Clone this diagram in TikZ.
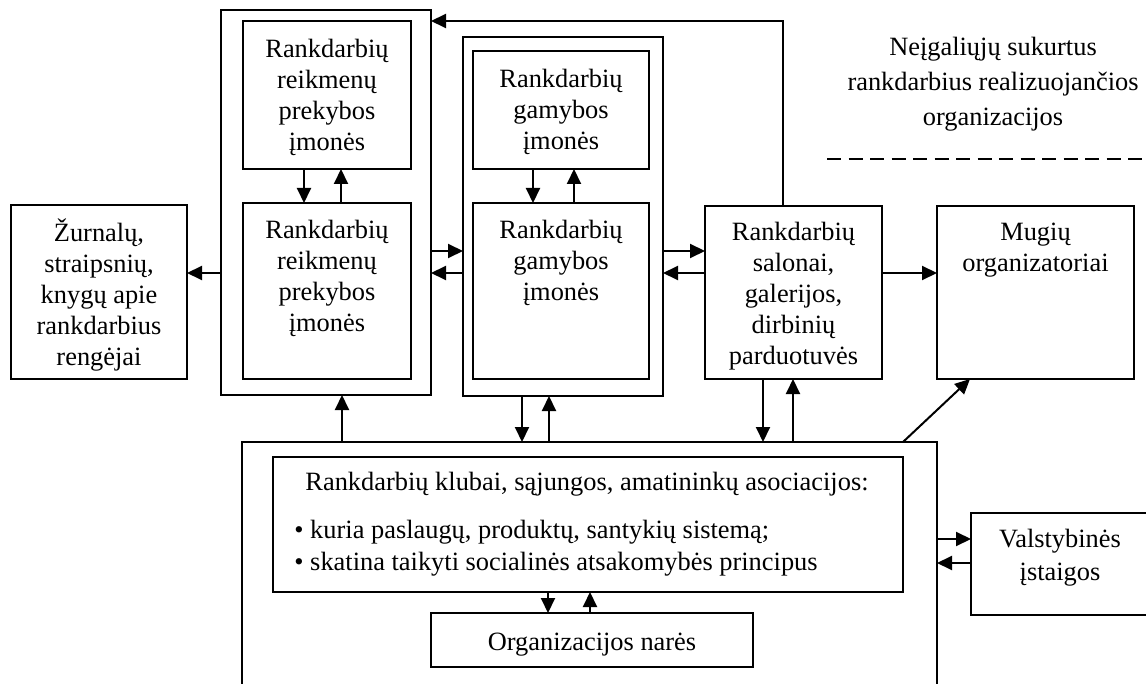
\documentclass[tikz,border=0pt]{standalone}
\usepackage{fontspec}
\setmainfont{Liberation Serif}
\usetikzlibrary{arrows.meta,fit}
\tikzset{
  box/.style={draw, line width=1pt, inner sep=0pt, outer sep=0pt},
  txt/.style={inner sep=0pt, align=center, anchor=north,
              font=\fontsize{13.2}{15.5}\selectfont},
  arr/.style={line width=1pt, -{Triangle[length=7.5pt,width=7pt]}},
  sep/.style={line width=1pt, dash pattern=on 7pt off 3.75pt},
}
% zero-width strut fixing the height of a node's first line
\newcommand\fls{\rule{0pt}{12pt}}

\begin{document}
\begin{tikzpicture}[x=0.5pt,y=-0.5pt]
\useasboundingbox (0,0) rectangle (1146,684);

% ---------- boxes ----------
\node[box, fit={(221,10) (431,395)}]  (O1) {};
\node[box, fit={(243,21) (411,169)}]  (A)  {};
\node[box, fit={(243,203) (411,379)}] (B)  {};
\node[box, fit={(463,37) (663,396)}]  (O2) {};
\node[box, fit={(473,51) (649,169)}]  (C)  {};
\node[box, fit={(473,203) (649,379)}] (D)  {};
\node[box, fit={(11,205) (187,379)}]  (Z)  {};
\node[box, fit={(705,206) (882,379)}] (S)  {};
\node[box, fit={(937,206) (1134,379)}] (M) {};
\node[box, fit={(242,442) (937,700)}] (G)  {};
\node[box, fit={(273,457) (903,592)}] (K)  {};
\node[box, fit={(431,613) (753,667)}] (N)  {};
\node[box, fit={(971,513) (1152,615)}] (V) {};

% ---------- texts ----------
\node[txt] (tA) at (327,33)  {\fls Rankdarbių\\reikmenų\\prekybos\\įmonės};
\node[txt] (tB) at (327,214) {\fls Rankdarbių\\reikmenų\\prekybos\\įmonės};
\node[txt] (tC) at (561,63)  {\fls Rankdarbių\\gamybos\\įmonės};
\node[txt] (tD) at (561,214) {\fls Rankdarbių\\gamybos\\įmonės};
\node[txt] (tZ) at (99,217)  {\fls Žurnalų,\\straipsnių,\\knygų apie\\rankdarbius\\rengėjai};
\node[txt] (tS) at (793.5,216) {\fls Rankdarbių\\salonai,\\galerijos,\\dirbinių\\parduotuvės};
\node[txt] (tM) at (1035.5,216) {\fls Mugių\\organizatoriai};
\node[txt, font=\fontsize{13.2}{16.5}\selectfont] (tV) at (1060,523) {\fls Valstybinės\\įstaigos};
\node[txt] (tK) at (587,466) {\fls Rankdarbių klubai, sąjungos, amatininkų asociacijos:};
\node[txt, anchor=north west, align=left, font=\fontsize{13.2}{16}\selectfont] (tKb) at (294,514)
  {\fls • kuria paslaugų, produktų, santykių sistemą;\\• skatina taikyti socialinės atsakomybės principus};
\node[txt] (tN) at (592,626) {\fls Organizacijos narės};
\node[txt, font=\fontsize{13.2}{17.5}\selectfont] (tT) at (993,31)
  {\fls Neįgaliųjų sukurtus\\rankdarbius realizuojančios\\organizacijos};

% separator under the heading
\draw[sep] (827,159) -- (1146,159);

% ---------- guide coordinates for connector rows / columns ----------
\coordinate (r0) at (0,21);
\coordinate (r1) at (0,251);
\coordinate (r2) at (0,273);
\coordinate (r3) at (0,539);
\coordinate (r4) at (0,563);
\coordinate (cA1) at (304,0);
\coordinate (cA2) at (341,0);
\coordinate (cC1) at (533,0);
\coordinate (cC2) at (574,0);
\coordinate (cO1) at (342,0);
\coordinate (cO2a) at (522,0);
\coordinate (cO2b) at (549,0);
\coordinate (cS0) at (783,0);
\coordinate (cSa) at (763,0);
\coordinate (cSb) at (793,0);
\coordinate (cG) at (903,0);
\coordinate (cM) at (970,0);
\coordinate (cKa) at (548,0);
\coordinate (cKb) at (590,0);

% ---------- connectors ----------
\draw[arr] (O1.west |- r2) -- (Z.east |- r2);
\draw[arr] (A.south -| cA1) -- (B.north -| cA1);
\draw[arr] (B.north -| cA2) -- (A.south -| cA2);
\draw[arr] (O1.east |- r1) -- (O2.west |- r1);
\draw[arr] (O2.west |- r2) -- (O1.east |- r2);
\draw[arr] (C.south -| cC1) -- (D.north -| cC1);
\draw[arr] (D.north -| cC2) -- (C.south -| cC2);
\draw[arr] (O2.east |- r1) -- (S.west |- r1);
\draw[arr] (S.west |- r2) -- (O2.east |- r2);
\draw[arr] (S.north -| cS0) |- (O1.east |- r0);
\draw[arr] (S.east |- r2) -- (M.west |- r2);
\draw[arr] (G.north -| cO1) -- (O1.south -| cO1);
\draw[arr] (O2.south -| cO2a) -- (G.north -| cO2a);
\draw[arr] (G.north -| cO2b) -- (O2.south -| cO2b);
\draw[arr] (S.south -| cSa) -- (G.north -| cSa);
\draw[arr] (G.north -| cSb) -- (S.south -| cSb);
\draw[arr] (G.north -| cG) -- (M.south -| cM);
\draw[arr] (K.south -| cKa) -- (N.north -| cKa);
\draw[arr] (N.north -| cKb) -- (K.south -| cKb);
\draw[arr] (G.east |- r3) -- (V.west |- r3);
\draw[arr] (V.west |- r4) -- (G.east |- r4);
\end{tikzpicture}
\end{document}
